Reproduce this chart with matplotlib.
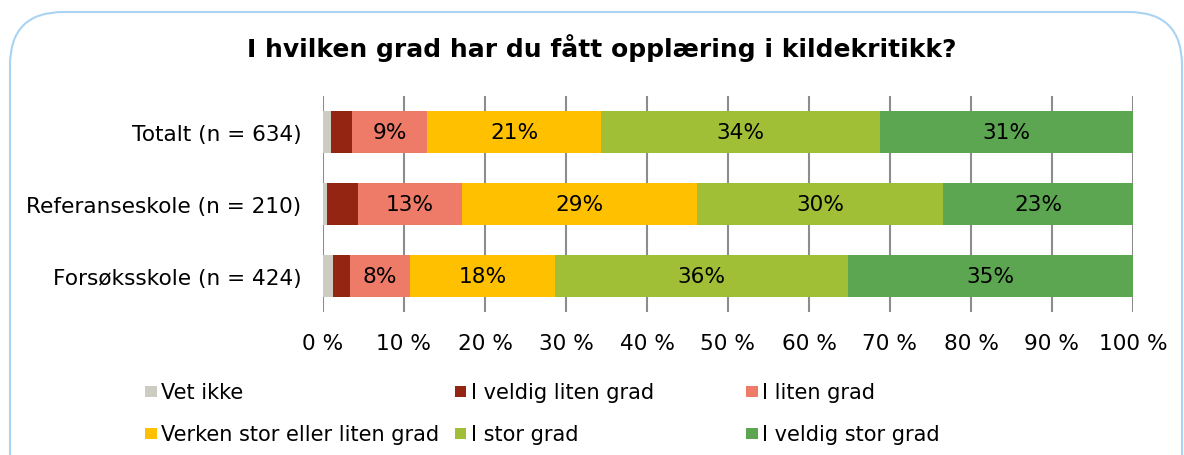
import matplotlib.pyplot as plt
from matplotlib.patches import FancyBboxPatch, Rectangle

groups = ["Totalt (n = 634)", "Referanseskole (n = 210)", "Forsøksskole (n = 424)"]
answers = ["Vet ikke", "I veldig liten grad", "I liten grad",
           "Verken stor eller liten grad", "I stor grad", "I veldig stor grad"]
vet_ikke = [1.0, 0.5, 1.2]
veldig_liten = [2.6, 3.8, 2.1]
liten = [9.3, 12.8, 7.5]
verken = [21.4, 29.1, 17.8]
stor = [34.5, 30.4, 36.2]
veldig_stor = [31.2, 23.4, 35.2]
xticks = [0, 10, 20, 30, 40, 50, 60, 70, 80, 90, 100]

series = [vet_ikke, veldig_liten, liten, verken, stor, veldig_stor]
colors = ["#cdccc3", "#952513", "#ee7b68", "#ffc000", "#a1bf36", "#5ca651"]

plt.rcParams['font.family'] = ['DejaVu Sans']
fs = 15.6
fs_leg = 15.0
fig = plt.figure(figsize=(11.84, 4.56), dpi=100)

# rounded frame (behind everything)
frame = FancyBboxPatch((10 / 1184, -0.2), 1172 / 1184, 1 - 13 / 456 + 0.2, transform=fig.transFigure,
                       boxstyle="round,pad=0,rounding_size=0.045",
                       facecolor="white", edgecolor="#a9d3f2", linewidth=1.5,
                       mutation_aspect=1184 / 456, zorder=-10)
fig.patches.append(frame)

ax = fig.add_axes([323 / 1184, 1 - 313 / 456, 810 / 1184, 216 / 456])
ax.set_facecolor("none")
ypos = list(range(len(groups)))
left = [0.0] * len(groups)
for vals, col in zip(series, colors):
    ax.barh(ypos, vals, left=left, height=0.57, color=col, edgecolor="none", zorder=3)
    for i, v in enumerate(vals):
        if v >= 5:
            ax.text(left[i] + v / 2, ypos[i], f"{round(v):.0f}%", ha="center", va="center",
                    fontsize=fs, color="black", zorder=4)
    left = [l + v for l, v in zip(left, vals)]

ax.set_xlim(0, 100)
ax.set_ylim(len(groups) - 0.5, -0.5)
ax.set_xticks(xticks)
ax.set_xticklabels([f"{t} %" for t in xticks], fontsize=fs)
ax.set_yticks(ypos)
ax.set_yticklabels(groups, fontsize=fs)
ax.tick_params(axis="x", length=0, pad=15)
ax.tick_params(axis="y", length=0, pad=15.5)
ax.grid(axis="x", color="#8c8c8c", linewidth=1.5, zorder=0)
for s in ax.spines.values():
    s.set_visible(False)

fig.text(602 / 1184, 1 - 48 / 456, "I hvilken grad har du fått opplæring i kildekritikk?",
         ha="center", va="center", fontsize=18, fontweight="bold")

# legend, row-wise
leg_x = [145, 455, 746]
leg_y = [392, 434]
for k, (lab, col) in enumerate(zip(answers, colors)):
    px = leg_x[k % 3]
    py = leg_y[k // 3]
    fig.patches.append(Rectangle((px / 1184, 1 - (py + 6) / 456), 11.5 / 1184, 11.5 / 456,
                                 transform=fig.transFigure, facecolor=col, edgecolor="none"))
    fig.text((px + 16) / 1184, 1 - (py + 1) / 456, lab, ha="left", va="center", fontsize=fs_leg)

fig.savefig("out.png", dpi=100)
